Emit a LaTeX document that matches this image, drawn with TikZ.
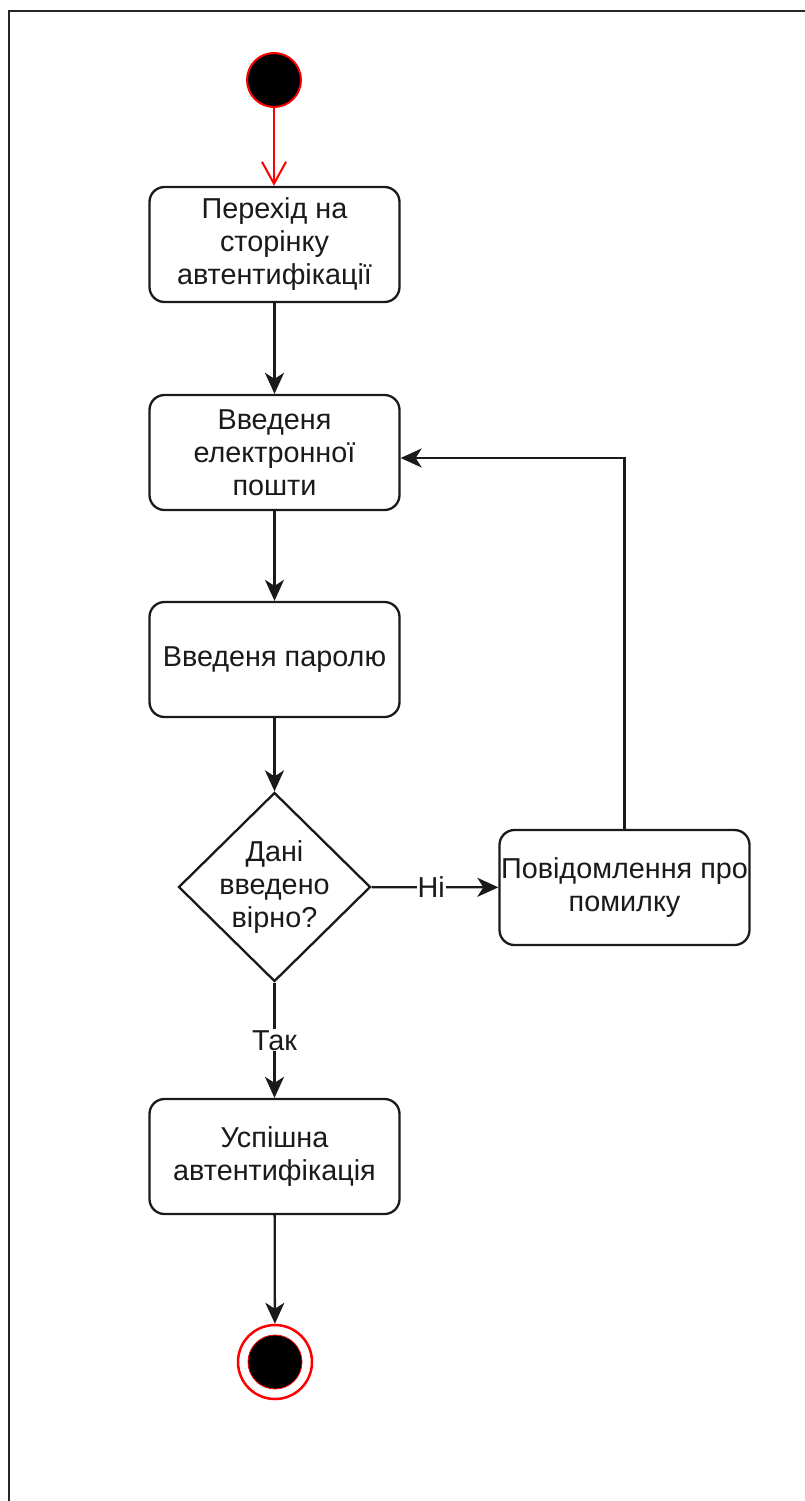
\documentclass[tikz,border=0pt]{standalone}
\usepackage{fontspec}
\setmainfont{Liberation Sans}
\usetikzlibrary{arrows.meta,shapes.geometric}
\definecolor{edge}{HTML}{1A1A1A}
\definecolor{startred}{HTML}{FF0000}
\begin{document}
\begin{tikzpicture}[x=1pt,y=-1pt,
  every node/.style={font=\fontsize{28.8}{33}\selectfont, text=edge},
  action/.style={draw=edge, line width=2.3pt, rounded corners=15pt, fill=white,
    minimum width=250pt, minimum height=115pt, align=center, inner sep=0pt},
  decision/.style={draw=edge, line width=2.3pt, diamond, fill=white,
    minimum width=192pt, minimum height=189pt, inner sep=0pt},
  flow/.style={draw=edge, line width=2.3pt,
    -{Stealth[length=21pt,width=19pt,inset=6pt]}},
  lbl/.style={fill=white, inner sep=1pt},
]
\useasboundingbox (0,0) rectangle (805,1501);
% outer frame (top and left edges)
\draw[line width=2pt, draw=black!85] (9,1501) -- (9,11) -- (805,11);

% initial state
\node[circle, fill=black, draw=startred, line width=2pt, minimum size=54pt, inner sep=0pt]
  (start) at (274,80) {};

% actions
\node[action] (go)    at (274.5,244.5) {Перехід на\\сторінку\\автентифікації};
\node[action] (email) at (274.5,452.5) {Введеня\\електронної\\пошти};
\node[action] (pass)  at (274.5,659.5) {Введеня паролю};
\node[decision, label={[align=center]center:Дані\\введено\\вірно?}]
  (chk) at (274.5,887) {};
\node[action] (err)   at (624.5,887.5) {Повідомлення про\\помилку};
\node[action] (ok)    at (274.5,1156.5) {Успішна\\автентифікація};

% final state
\node[circle, draw=startred, line width=2.5pt, minimum size=74pt, inner sep=0pt]
  (end) at (275,1362) {};
\node[circle, fill=black, draw=startred, line width=0.8pt, minimum size=54pt, inner sep=0pt]
  (endin) at (275,1362) {};

% transitions
\draw[draw=startred, line width=2pt,
  -{Straight Barb[length=22pt,width=24pt,line width=2pt]}] (start) -- (start |- go.north);
\draw[flow] (go) -- (email);
\draw[flow] (email) -- (pass);
\draw[flow] (pass) -- (chk);
\draw[flow] (chk) -- node[lbl, pos=0.47] {Ні} (err);
\draw[flow] (chk) -- node[lbl, pos=0.5] {Так} (ok);
\draw[flow] (err.north) |- (email.east |- 0,458);
\draw[flow] (ok) -- (end);
\end{tikzpicture}
\end{document}
